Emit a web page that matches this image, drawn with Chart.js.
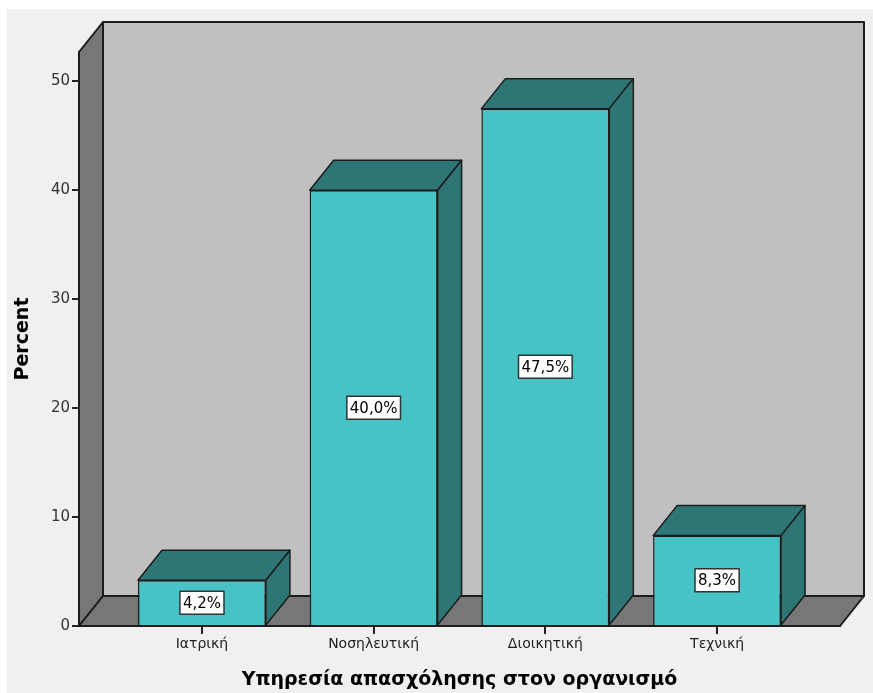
<!DOCTYPE html>
<html>
<head>
<meta charset="utf-8">
<script src="https://cdn.jsdelivr.net/npm/chart.js@4/dist/chart.umd.min.js"></script>
<style>
  html, body { margin: 0; padding: 0; background: #ffffff; }
  #wrap { width: 873px; height: 693px; position: relative; }
</style>
</head>
<body>
<div id="wrap"><canvas id="c" width="873" height="693"></canvas></div>
<script>
// Employment department of respondents (percent)
const categories = ['Ιατρική', 'Νοσηλευτική', 'Διοικητική', 'Τεχνική'];
const percents = [4.2, 40.0, 47.5, 8.3];
const xTitle = 'Υπηρεσία απασχόλησης στον οργανισμό';
const yTitle = 'Percent';

// 3D depth offset of the box
const DX = 24, DY = 30;
const FRONT = '#47c2c5';
const SHADE = '#2d7675';
const OUTLINE = '#1c1c1c';

function fmt(v) { return v.toFixed(1).replace('.', ',') + '%'; }

function poly(ctx, pts, fill) {
  ctx.beginPath();
  ctx.moveTo(pts[0][0], pts[0][1]);
  for (let i = 1; i < pts.length; i++) ctx.lineTo(pts[i][0], pts[i][1]);
  ctx.closePath();
  ctx.fillStyle = fill;
  ctx.fill();
  ctx.stroke();
}

const box3d = {
  id: 'box3d',
  beforeDraw(chart) {
    const ctx = chart.ctx;
    ctx.save();
    ctx.fillStyle = '#ffffff';
    ctx.fillRect(0, 0, chart.width, chart.height);
    ctx.fillStyle = '#f0f0f0';
    ctx.fillRect(7, 9, chart.width - 7, chart.height - 9);
    ctx.restore();
  },
  beforeDatasetsDraw(chart) {
    const ctx = chart.ctx;
    const a = chart.chartArea;
    const L = a.left, R = a.right, T = a.top, B = a.bottom;
    ctx.save();
    ctx.strokeStyle = OUTLINE;
    ctx.lineWidth = 2;
    ctx.lineJoin = 'round';
    // back wall
    poly(ctx, [[L + DX, T - DY], [R + DX, T - DY], [R + DX, B - DY], [L + DX, B - DY]], '#c0c0c0');
    // left wall
    poly(ctx, [[L, T], [L + DX, T - DY], [L + DX, B - DY], [L, B]], '#777777');
    // floor
    poly(ctx, [[L, B], [L + DX, B - DY], [R + DX, B - DY], [R, B]], '#777777');
    ctx.restore();
  },
  afterDatasetsDraw(chart) {
    const ctx = chart.ctx;
    const meta = chart.getDatasetMeta(0);
    ctx.save();
    ctx.strokeStyle = OUTLINE;
    ctx.lineWidth = 1.5;
    ctx.lineJoin = 'round';
    meta.data.forEach((bar, i) => {
      const p = bar.getProps(['x', 'y', 'base', 'width'], true);
      const l = p.x - p.width / 2, r = p.x + p.width / 2;
      ctx.strokeStyle = OUTLINE;
      ctx.lineWidth = 1.5;
      // top face
      poly(ctx, [[l, p.y], [l + DX, p.y - DY], [r + DX, p.y - DY], [r, p.y]], SHADE);
      // side face
      poly(ctx, [[r, p.y], [r + DX, p.y - DY], [r + DX, p.base - DY], [r, p.base]], SHADE);
      // value label
      const txt = fmt(percents[i]);
      ctx.font = '15px "DejaVu Sans", sans-serif';
      const w = ctx.measureText(txt).width + 6;
      const h = 23;
      const cy = (p.y + p.base) / 2;
      ctx.fillStyle = '#ffffff';
      ctx.fillRect(p.x - w / 2, cy - h / 2, w, h);
      ctx.lineWidth = 1.5;
      ctx.strokeStyle = '#333333';
      ctx.strokeRect(p.x - w / 2, cy - h / 2, w, h);
      ctx.fillStyle = '#000000';
      ctx.textAlign = 'center';
      ctx.textBaseline = 'middle';
      ctx.fillText(txt, p.x, cy + 1);
    });
    ctx.restore();
  }
};

new Chart(document.getElementById('c'), {
  type: 'bar',
  data: {
    datasets: [{
      data: percents.map((v, i) => ({ x: i, y: v })),
      backgroundColor: FRONT,
      borderColor: OUTLINE,
      borderWidth: 1.5,
      barPercentage: 0.745,
      categoryPercentage: 1
    }]
  },
  options: {
    responsive: false,
    animation: false,
    devicePixelRatio: 1,
    layout: { padding: { left: 0, top: 52, right: 33, bottom: 0 } },
    plugins: { legend: { display: false }, tooltip: { enabled: false } },
    scales: {
      x: {
        type: 'linear',
        offset: false,
        min: -0.716,
        max: 3.716,
        afterBuildTicks(s) { s.ticks = categories.map((c, i) => ({ value: i })); },
        afterFit(s) { s.height = 67; s.paddingLeft = 0; s.paddingRight = 0; },
        ticks: {
          callback: (v) => categories[v],
          color: '#222222',
          font: { family: '"DejaVu Sans", sans-serif', size: 14 },
          padding: 2,
          maxRotation: 0,
          autoSkip: false
        },
        grid: { display: true, offset: false, drawOnChartArea: false, drawTicks: true, tickLength: 8, color: '#222222', lineWidth: 2 },
        border: { display: true, color: OUTLINE, width: 2 },
        title: {
          display: true,
          text: xTitle,
          color: '#000000',
          font: { family: '"DejaVu Sans", sans-serif', size: 19, weight: 'bold' },
          padding: { top: 0, bottom: 2 }
        }
      },
      y: {
        min: 0,
        max: 52.7,
        afterFit(s) { s.width = 79; s.paddingTop = 0; s.paddingBottom = 0; },
        ticks: {
          stepSize: 10,
          includeBounds: false,
          color: '#333333',
          font: { family: '"DejaVu Sans", sans-serif', size: 15 },
          padding: 2
        },
        grid: { display: true, drawOnChartArea: false, drawTicks: true, tickLength: 7, color: '#222222', lineWidth: 2 },
        border: { display: true, color: OUTLINE, width: 2 },
        title: {
          display: true,
          text: yTitle,
          color: '#000000',
          font: { family: '"DejaVu Sans", sans-serif', size: 19, weight: 'bold' },
          padding: { top: 12, bottom: 0 }
        }
      }
    }
  },
  plugins: [box3d]
});
</script>
</body>
</html>
